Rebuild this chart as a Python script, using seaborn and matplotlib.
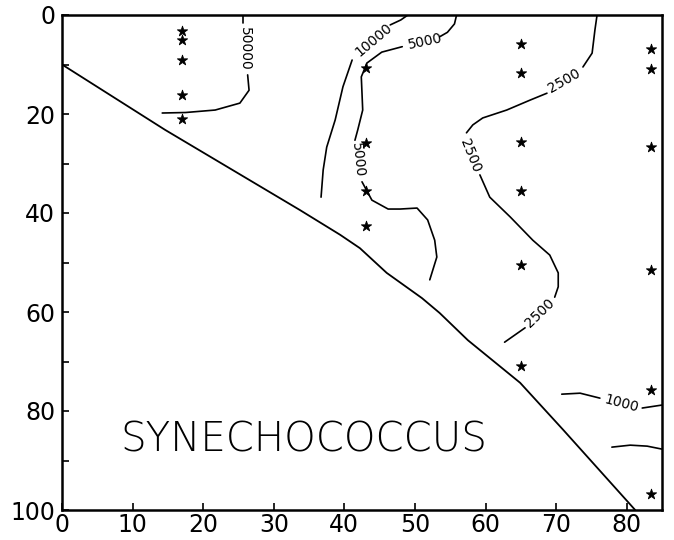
import matplotlib
matplotlib.use("Agg")
import matplotlib.pyplot as plt
import seaborn as sns
import pandas as pd
import numpy as np

# ---- data ----
# station sample points (distance, depth)
station_x = [17]*5 + [43]*4 + [65]*6 + [83.5]*6
station_depth = [3.2, 5.1, 9.1, 16.2, 21.0,
                 10.7, 25.9, 35.6, 42.6,
                 5.9, 11.7, 25.7, 35.6, 50.5, 71.0,
                 6.9, 10.9, 26.7, 51.5, 75.8, 96.8]

# sea floor
floor_x = [0, 14.6, 33.7, 39.4, 42.2, 46.0, 51.0, 53.5, 57.5, 64.9, 71.0, 81.2]
floor_y = [10, 23.2, 39.4, 44.4, 47.1, 52.1, 57.2, 60.2, 65.7, 74.3, 83.8, 100]

# contour segments (hand-drawn isolines, cells per ml)
c50000_a_x = [25.6, 25.6]
c50000_a_y = [0, 1.6]
c50000_b_x = [26.3, 26.5, 25.2, 21.7, 17.5, 14.2]
c50000_b_y = [12.1, 15.2, 17.8, 19.2, 19.7, 19.8]

c10000_a_x = [49.0, 48.0, 46.5]
c10000_a_y = [0, 1.0, 2.0]
c10000_b_x = [41.1, 39.8, 38.7, 37.5, 37.0, 36.7]
c10000_b_y = [9.1, 14.5, 21.2, 26.7, 31.3, 36.8]

c5000_a_x = [55.9, 55.6, 54.6, 53.5]
c5000_a_y = [0, 1.8, 3.5, 4.4]
c5000_b_x = [48.2, 45.3, 43.2, 42.4, 42.5, 42.6, 41.9, 41.5]
c5000_b_y = [6.4, 7.5, 9.7, 12.5, 15.8, 19.2, 23.2, 25.3]
c5000_c_x = [42.5, 43.9, 46.2, 47.9, 50.3, 51.8, 52.8, 53.1, 52.1]
c5000_c_y = [33.7, 37.4, 39.2, 39.2, 39.0, 41.4, 45.5, 48.9, 53.5]

c2500_a_x = [75.8, 75.5, 75.1, 73.8]
c2500_a_y = [0, 3.0, 7.7, 10.5]
c2500_b_x = [68.7, 66.3, 63.0, 59.6, 58.2, 57.3]
c2500_b_y = [15.8, 17.2, 19.2, 20.8, 22.2, 23.8]
c2500_c_x = [59.2, 60.6, 63.5, 66.7, 69.1, 70.3, 70.3, 69.8]
c2500_c_y = [32.3, 36.8, 40.8, 45.5, 48.5, 52.1, 54.9, 57.0]
c2500_d_x = [65.6, 62.7]
c2500_d_y = [63.2, 66.1]

c1000_a_x = [70.8, 73.4, 76.2]
c1000_a_y = [76.6, 76.4, 77.4]
c1000_b_x = [82.2, 85.0]
c1000_b_y = [79.4, 78.8]

c_low_x = [77.9, 80.5, 82.9, 85.0]
c_low_y = [87.3, 86.9, 87.1, 87.7]

# contour labels: text, x, depth, rotation
label_text = ["50000", "10000", "5000", "5000", "2500", "2500", "2500", "1000"]
label_x = [25.9, 44.1, 51.4, 41.9, 71.1, 57.9, 67.7, 79.3]
label_y = [6.8, 5.1, 5.3, 29.3, 13.3, 28.5, 60.2, 78.6]
label_rot = [-90, 40, 12, -84, 30, -68, 44, -15]

x_ticks = [0, 10, 20, 30, 40, 50, 60, 70, 80]
y_ticks = [0, 10, 20, 30, 40, 50, 60, 70, 80, 90, 100]
y_ticklabels = ["0", "", "20", "", "40", "", "60", "", "80", "", "100"]

# ---- plot ----
sns.set_style("white")
plt.rcParams["font.family"] = ["DejaVu Sans"]
plt.rcParams["text.color"] = "black"
fig = plt.figure(figsize=(6.74, 5.40), dpi=100)
ax = fig.add_axes([62/674, 30/540, 600/674, 495/540])

def seg(xs, ys, lw=1.2):
    df = pd.DataFrame({"x": xs, "y": ys})
    sns.lineplot(data=df, x="x", y="y", sort=False, estimator=None,
                 color="black", linewidth=lw, ax=ax)

seg(floor_x, floor_y, lw=1.3)
for xs, ys in [(c50000_a_x, c50000_a_y), (c50000_b_x, c50000_b_y),
               (c10000_a_x, c10000_a_y), (c10000_b_x, c10000_b_y),
               (c5000_a_x, c5000_a_y), (c5000_b_x, c5000_b_y), (c5000_c_x, c5000_c_y),
               (c2500_a_x, c2500_a_y), (c2500_b_x, c2500_b_y), (c2500_c_x, c2500_c_y),
               (c2500_d_x, c2500_d_y),
               (c1000_a_x, c1000_a_y), (c1000_b_x, c1000_b_y),
               (c_low_x, c_low_y)]:
    seg(xs, ys)

sns.scatterplot(x=station_x, y=station_depth, marker="*", s=60, color="black",
                edgecolor="black", linewidth=0.6, ax=ax, zorder=5)

for t, x, y, r in zip(label_text, label_x, label_y, label_rot):
    ax.text(x, y, t, rotation=r, ha="center", va="center", fontsize=10,
            rotation_mode="anchor", color="black")

ax.text(8.2, 85.9, "SYNECHOCOCCUS", fontsize=29, ha="left", va="center",
        fontweight="light", color="black")

ax.set_xlim(0, 85)
ax.set_ylim(100, 0)
ax.set_xticks(x_ticks)
ax.set_yticks(y_ticks)
ax.set_yticklabels(y_ticklabels)
ax.tick_params(direction="in", length=5, width=1.2, labelsize=17,
               bottom=True, left=True, colors="black", labelcolor="black")
ax.tick_params(axis="x", pad=2)
ax.tick_params(axis="y", pad=5)
ax.set_xlabel("")
ax.set_ylabel("")
for s in ax.spines.values():
    s.set_linewidth(1.8)
    s.set_color("black")

fig.savefig("out.png", dpi=100)
